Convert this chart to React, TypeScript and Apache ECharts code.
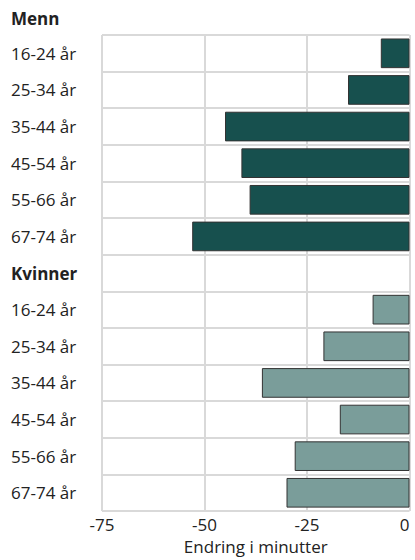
import React, { useEffect, useRef } from "react";
import * as echarts from "echarts";

const categories = [
  "16-24 år", "25-34 år", "35-44 år", "45-54 år", "55-66 år", "67-74 år",
  "Kvinner",
  "16-24 år", "25-34 år", "35-44 år", "45-54 år", "55-66 år", "67-74 år",
];
const menValues = [-7, -15, -45, -41, -39, -53];
const womenValues = [-9, -21, -36, -17, -28, -30];
const xTicks = { min: -75, max: 0, interval: 25 };
const groupHeaderTop = "Menn";
const groupHeaderMid = "Kvinner";
const axisTitle = "Endring i minutter";

export default function App() {
  const ref = useRef<HTMLDivElement>(null);
  useEffect(() => {
    document.body.style.margin = "0";
    const chart = echarts.init(ref.current!, null, { renderer: "svg" });
    const menData: any[] = categories.map((_, i) => (i < menValues.length ? menValues[i] : "-"));
    const womenData: any[] = categories.map((_, i) =>
      i > menValues.length ? womenValues[i - menValues.length - 1] : "-"
    );
    const font = '"Open Sans", sans-serif';
    const fs = 17;
    chart.setOption({
      animation: false,
      textStyle: { fontFamily: font },
      grid: { left: 102, right: 5.5, top: 35, bottom: 44, containLabel: false },
      graphic: [
        {
          type: "text",
          left: 11,
          top: 10,
          style: { text: groupHeaderTop, font: `bold ${fs}px ${font}`, fill: "#222" },
        },
      ],
      xAxis: {
        type: "value",
        min: xTicks.min,
        max: xTicks.max,
        interval: xTicks.interval,
        name: axisTitle,
        nameLocation: "middle",
        nameGap: 25,
        nameTextStyle: { fontSize: fs, color: "#222", fontFamily: font },
        axisLine: { show: false },
        axisTick: { show: false },
        axisLabel: { fontSize: fs, color: "#222", margin: 5, fontFamily: font, alignMaxLabel: "right" },
        splitLine: { show: true, lineStyle: { color: "#d9d9d9", width: 2 } },
      },
      yAxis: {
        type: "category",
        inverse: true,
        data: categories,
        axisLine: { show: false },
        axisTick: { show: false },
        axisLabel: {
          align: "left",
          margin: 91,
          fontSize: fs,
          color: "#222",
          fontFamily: font,
          formatter: (v: string) => (v === groupHeaderMid ? `{b|${v}}` : v),
          rich: { b: { fontWeight: "bold", fontSize: fs, color: "#222", fontFamily: font } },
        },
        splitLine: { show: true, lineStyle: { color: "#d9d9d9", width: 2 } },
      },
      series: [
        {
          type: "bar",
          stack: "s",
          data: menData,
          barCategoryGap: "19%",
          itemStyle: { color: "#17504e", borderColor: "#333", borderWidth: 1 },
        },
        {
          type: "bar",
          stack: "s",
          data: womenData,
          barCategoryGap: "19%",
          itemStyle: { color: "#7a9d9a", borderColor: "#333", borderWidth: 1 },
        },
      ],
    });
    return () => chart.dispose();
  }, []);
  return <div ref={ref} style={{ width: 415, height: 560 }} />;
}
